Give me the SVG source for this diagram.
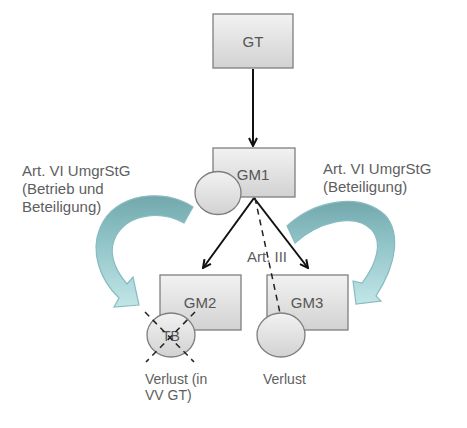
<svg xmlns="http://www.w3.org/2000/svg" width="467" height="428" viewBox="0 0 467 428">
<defs>
<linearGradient id="gBox" x1="0" y1="0" x2="0" y2="1">
<stop offset="0" stop-color="#F2F2F2"/>
<stop offset="1" stop-color="#D2D2D2"/>
</linearGradient>
<linearGradient id="gTeal" x1="0" y1="0" x2="0" y2="1">
<stop offset="0" stop-color="#72A8AC"/>
<stop offset="0.35" stop-color="#8CC0C4"/>
<stop offset="1" stop-color="#C2E6E8"/>
</linearGradient>
<marker id="ah" viewBox="0 0 10 10" refX="9" refY="5" markerWidth="10" markerHeight="10" markerUnits="userSpaceOnUse" orient="auto">
<path d="M1,1 L9,5 L1,9" fill="none" stroke="#111" stroke-width="2"/>
</marker>
<style>
.box{fill:url(#gBox);stroke:#7F7F7F;stroke-width:1.3}
.circ{fill:url(#gBox);stroke:#7F7F7F;stroke-width:1.3}
.bl{font-family:"Liberation Sans",Arial,sans-serif;font-size:15px;fill:#555;text-anchor:middle}
.lb{font-family:"Liberation Sans",Arial,sans-serif;font-size:15px;fill:#5E5E5E}
.lv{font-family:"Liberation Sans",Arial,sans-serif;font-size:14px;fill:#5E5E5E}
.teal{fill:url(#gTeal);stroke:#86BCC0;stroke-width:1.2}
.arr{stroke:#111;stroke-width:2;fill:none;marker-end:url(#ah)}
.dash{stroke:#222;stroke-width:1.5;fill:none;stroke-dasharray:6 5}
</style>
</defs>
<rect width="467" height="428" fill="#FFFFFF"/>

<g id="teal-arrows">
<path id="teal-left" class="teal" d="M193,207 C165,188 115,192 100,228 C90,252 100,280 119,298 L114,307 L139,305 L133,277 L127,284 C113,268 108,250 116,236 C128,214 160,210 184,223 Z"/>
<path id="teal-right" class="teal" d="M287,226 C315,200 360,192 385,215 C400,232 398,262 376,296 L381,301 L356,304 L353,281 L362,283 C378,262 382,242 372,230 C355,212 318,222 295,243 Z"/>
</g>

<g id="labels">
<text class="lb" x="22" y="176">Art. VI UmgrStG</text>
<text class="lb" x="22" y="194">(Betrieb und</text>
<text class="lb" x="22" y="212">Beteiligung)</text>
<text class="lb" x="323" y="174">Art. VI UmgrStG</text>
<text class="lb" x="323" y="192">(Beteiligung)</text>
</g>

<g id="GT">
<rect class="box" x="213" y="14" width="80" height="54"/>
<text class="bl" x="253" y="47">GT</text>
</g>

<g id="GM1">
<rect class="box" x="213" y="148" width="82" height="49"/>
<text class="bl" x="253" y="180">GM1</text>
</g>

<g id="GM2">
<rect class="box" x="160" y="275" width="81" height="55"/>
<text class="bl" x="200" y="308">GM2</text>
</g>

<g id="GM3">
<rect class="box" x="267" y="275" width="81" height="55"/>
<text class="bl" x="307" y="308">GM3</text>
</g>

<g id="connectors">
<line class="arr" x1="253" y1="69" x2="253" y2="146"/>
<line class="arr" x1="254" y1="198" x2="203" y2="268"/>
<line class="arr" x1="254" y1="198" x2="308" y2="268"/>
<line class="dash" x1="255" y1="198" x2="280" y2="313"/>
</g>

<g id="circle-GM1">
<ellipse class="circ" cx="218" cy="193" rx="23" ry="21.5"/>
</g>

<g id="TB">
<ellipse class="circ" cx="171" cy="335" rx="24" ry="22"/>
<text class="bl" x="171" y="341" style="font-size:14px">TB</text>
<line class="dash" x1="145" y1="312" x2="194" y2="362"/>
<line class="dash" x1="195" y1="312" x2="146" y2="362"/>
</g>

<g id="circle-GM3">
<ellipse class="circ" cx="281" cy="335" rx="24" ry="22"/>
</g>

<g id="bottom-labels">
<text class="lb" x="247" y="262">Art. III</text>
<text class="lv" x="145" y="384">Verlust (in</text>
<text class="lv" x="145" y="400">VV GT)</text>
<text class="lv" x="263" y="384">Verlust</text>
</g>
</svg>
